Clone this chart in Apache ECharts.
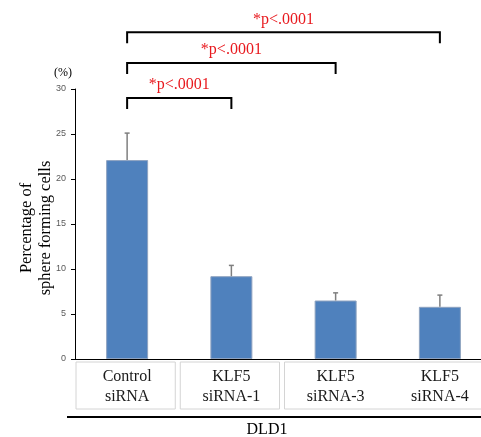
<!DOCTYPE html>
<html><head><meta charset="utf-8">
<script src="https://cdn.jsdelivr.net/npm/echarts@6/dist/echarts.min.js"></script>
<style>html,body{margin:0;padding:0;background:#fff}#c{width:481px;height:437px}</style>
</head><body><div id="c"></div>
<script>
const categories = ['Control\nsiRNA', 'KLF5\nsiRNA-1', 'KLF5\nsiRNA-3', 'KLF5\nsiRNA-4'];
const values = [22.1, 9.2, 6.5, 5.8];
const errors = [3.0, 1.2, 0.85, 1.3];
// brackets: [fromCategoryIndex, toCategoryIndex, bracket height (data units)]
const brackets = [[0, 1, 29.0], [0, 2, 32.9], [0, 3, 36.3]];
const bracketLabel = '*p<.0001';
const yTicks = [0, 5, 10, 15, 20, 25, 30];

const G = {left: 75, top: 89, width: 417, height: 270};
const serif = '"Liberation Serif", "Times New Roman", serif';
const chart = echarts.init(document.getElementById('c'), null, {renderer: 'canvas'});
const band = G.width / categories.length;

// category boxes (layout): first two single, last two merged
const boxGroups = [[0, 0], [1, 1], [2, 3]];
const graphics = boxGroups.map(([a, b]) => ({
  type: 'rect',
  shape: {x: G.left + a * band + 1, y: 362, width: (b - a + 1) * band - 5, height: 47},
  style: {fill: 'none', stroke: '#d4d4d4', lineWidth: 1}
}));
graphics.push({type: 'line', shape: {x1: 67, y1: 417, x2: 481, y2: 417}, style: {stroke: '#000', lineWidth: 2}});
graphics.push({type: 'text', x: 267, y: 430, style: {text: 'DLD1', font: '16px ' + serif, fill: '#000', textAlign: 'center', textVerticalAlign: 'middle'}});
graphics.push({type: 'text', x: 63, y: 73, style: {text: '(%)', font: '12px ' + serif, fill: '#000', textAlign: 'center', textVerticalAlign: 'middle'}});
graphics.push({type: 'text', x: 36, y: 228, rotation: Math.PI / 2,
  style: {text: 'Percentage of\nsphere forming cells', font: '16.5px ' + serif, lineHeight: 19, fill: '#000', textAlign: 'center', textVerticalAlign: 'middle'}});

chart.setOption({
  animation: false,
  grid: {left: G.left, top: G.top, width: G.width, height: G.height, containLabel: false, outerBoundsMode: 'none'},
  graphic: graphics,
  xAxis: {
    type: 'category', data: categories,
    axisLine: {lineStyle: {color: '#000', width: 1.2}},
    axisTick: {show: false},
    axisLabel: {fontFamily: serif, fontSize: 16, lineHeight: 20, color: '#1a1a1a', margin: 8, interval: 0}
  },
  yAxis: {
    type: 'value', min: 0, max: 30, interval: 5,
    axisLine: {show: true, lineStyle: {color: '#000', width: 1}},
    axisTick: {show: true, inside: false, length: 4, lineStyle: {color: '#000'}},
    splitLine: {show: false},
    axisLabel: {fontFamily: 'Liberation Sans, Arial, sans-serif', fontSize: 9, color: '#595959', margin: 9,
      formatter: v => yTicks.includes(v) ? String(v) : ''}
  },
  series: [
    {
      type: 'bar', data: values, barWidth: 42,
      itemStyle: {color: '#4f81bd', borderColor: '#8fa3c0', borderWidth: 1}
    },
    {
      type: 'custom', clip: false, z: 3,
      data: values.map((v, i) => [i, v, errors[i]]),
      renderItem: (params, api) => {
        const i = api.value(0), v = api.value(1), e = api.value(2);
        const p0 = api.coord([i, v]), p1 = api.coord([i, v + e]);
        return {type: 'group', children: [
          {type: 'line', shape: {x1: p0[0], y1: p0[1], x2: p1[0], y2: p1[1]}, style: {stroke: '#7f7f7f', lineWidth: 1.5}},
          {type: 'line', shape: {x1: p1[0] - 2.5, y1: p1[1], x2: p1[0] + 2.5, y2: p1[1]}, style: {stroke: '#7f7f7f', lineWidth: 1.5}}
        ]};
      }
    },
    {
      type: 'custom', clip: false, z: 4,
      data: brackets,
      renderItem: (params, api) => {
        const a = api.value(0), b = api.value(1), h = api.value(2);
        const p0 = api.coord([a, h]), p1 = api.coord([b, h]);
        const drop = 11;
        return {type: 'group', children: [
          {type: 'polyline', shape: {points: [[p0[0], p0[1] + drop], [p0[0], p0[1]], [p1[0], p1[1]], [p1[0], p1[1] + drop]]},
            style: {stroke: '#000', lineWidth: 2, fill: 'none'}},
          {type: 'text', x: (p0[0] + p1[0]) / 2, y: p0[1] - 13,
            style: {text: bracketLabel, font: '16px ' + serif, fill: '#e8191e', textAlign: 'center', textVerticalAlign: 'middle'}}
        ]};
      }
    }
  ]
});
</script></body></html>
